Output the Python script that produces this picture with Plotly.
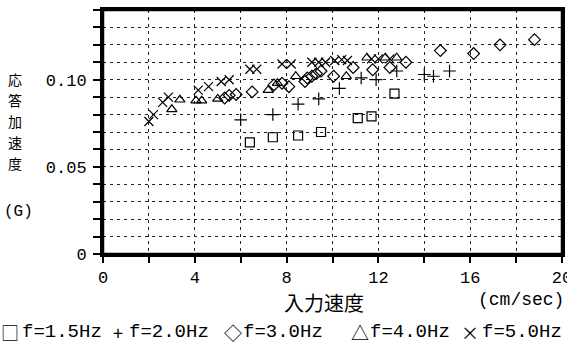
import plotly.graph_objects as go

# ---- data ----
sq_x = [6.4, 7.4, 8.5, 9.5, 11.1, 11.7, 12.7]
sq_y = [0.064, 0.067, 0.068, 0.070, 0.078, 0.079, 0.092]

plus_x = [6.0, 7.4, 8.5, 9.4, 10.3, 11.25, 11.9, 12.8, 14.0, 14.4, 15.1]
plus_y = [0.077, 0.080, 0.086, 0.089, 0.095, 0.101, 0.100, 0.105, 0.103, 0.102, 0.105]

dia_x = [5.3, 5.5, 5.8, 6.5, 7.45, 7.8, 8.1, 8.8, 8.9, 9.1, 9.3, 9.5, 10.05, 10.9,
         11.75, 12.5, 13.2, 14.7, 16.15, 17.3, 18.8]
dia_y = [0.0895, 0.091, 0.0915, 0.093, 0.097, 0.098, 0.096, 0.099, 0.101, 0.102,
         0.1035, 0.105, 0.102, 0.107, 0.1057, 0.107, 0.110, 0.1167, 0.115, 0.120, 0.123]

tri_x = [3.0, 3.35, 4.05, 4.3, 5.0, 7.2, 7.6, 8.4, 10.6, 11.5, 12.3, 12.8]
tri_y = [0.083, 0.0885, 0.088, 0.088, 0.089, 0.094, 0.098, 0.102, 0.102, 0.1126,
         0.1126, 0.1126]

x5_x = [2.0, 2.2, 2.6, 2.85, 4.15, 4.6, 5.15, 5.5, 6.4, 6.7, 7.8, 8.2, 9.1, 9.4,
        9.7, 10.1, 10.4, 10.65, 11.7, 12.0, 12.5]
x5_y = [0.076, 0.080, 0.087, 0.090, 0.094, 0.096, 0.099, 0.100, 0.106, 0.106, 0.109,
        0.109, 0.110, 0.110, 0.110, 0.111, 0.1115, 0.111, 0.112, 0.112, 0.112]

series_names = ["f=1.5Hz", "f=2.0Hz", "f=3.0Hz", "f=4.0Hz", "f=5.0Hz"]
legend_symbols = ["□", "+", "◇", "△", "×"]

x_tickvals = [0, 2, 4, 6, 8, 10, 12, 14, 16, 18, 20]
x_ticktext = ["0", "", "4", "", "8", "", "12", "", "16", "", "20"]
y_tickvals = [0.00, 0.01, 0.02, 0.03, 0.04, 0.05, 0.06, 0.07, 0.08, 0.09, 0.10,
              0.11, 0.12, 0.13, 0.14]
y_ticktext = ["0", "", "", "", "", "0.05", "", "", "", "", "0.10", "", "", "", ""]

y_title_chars = ["応", "答", "加", "速", "度"]
x_title = "入力速度"
x_unit = "(cm/sec)"
y_unit = "(G)"

MONO = "Liberation Mono, Noto Sans CJK JP, monospace"
CJK = "Noto Sans CJK JP, sans-serif"

fig = go.Figure()
specs = [
    (sq_x, sq_y, "square-open"),
    (plus_x, plus_y, "cross-thin-open"),
    (dia_x, dia_y, "diamond-open"),
    (tri_x, tri_y, "triangle-up-open"),
    (x5_x, x5_y, "x-thin-open"),
]
for (xs, ys, sym), name in zip(specs, series_names):
    fig.add_trace(go.Scatter(
        x=xs, y=ys, mode="markers", name=name,
        marker=dict(symbol=sym, size=9, color="black",
                    line=dict(color="black", width=1.2)),
        showlegend=False, cliponaxis=False,
    ))

grid_dash = "3px,4px"
fig.update_xaxes(
    range=[0, 20], tickvals=x_tickvals, ticktext=x_ticktext,
    showgrid=True, gridcolor="#222", gridwidth=1, griddash=grid_dash,
    ticks="outside", ticklen=6, tickwidth=1.5, tickcolor="black",
    showline=True, linecolor="black", linewidth=3, mirror=True,
    zeroline=False, automargin=False, ticklabeloverflow="allow",
    tickfont=dict(family=MONO, size=17, color="black"),
)
fig.update_yaxes(
    range=[0, 0.14], tickvals=y_tickvals, ticktext=y_ticktext,
    showgrid=True, gridcolor="#222", gridwidth=1, griddash=grid_dash,
    ticks="outside", ticklen=7, tickwidth=1.5, tickcolor="black",
    showline=True, linecolor="black", linewidth=3, mirror=True,
    zeroline=False, ticklabelstandoff=3, automargin=False,
    tickfont=dict(family=MONO, size=17, color="black"),
)

annotations = []
char_y = [79, 100, 121, 142, 163]
for ch, cy in zip(y_title_chars, char_y):
    annotations.append(dict(text=ch, x=15, y=cy,
                            font=dict(family=CJK, size=14, color="black")))
annotations += [
    dict(text=y_unit, x=18, y=212, font=dict(family=MONO, size=16, color="black")),
    dict(text=x_title, x=324, y=302, font=dict(family=CJK, size=20, color="black")),
    dict(text=x_unit, x=521, y=300, font=dict(family=MONO, size=18, color="black")),
]
# legend row as text
legend_sym_x = [10, 118, 233, 360, 470]
legend_txt_x = [20, 127, 241, 368, 480]
for sym, name, sx, tx in zip(legend_symbols, series_names, legend_sym_x, legend_txt_x):
    annotations.append(dict(text=sym, x=sx, y=332,
                            font=dict(family=CJK, size=18, color="black")))
    annotations.append(dict(text=name, x=tx, y=332, xanchor="left",
                            font=dict(family=MONO, size=19, color="black")))

W, H = 567, 349
L, R, T, B = 103, 5, 10, 95
PW, PH = W - L - R, H - T - B
fixed = []
for a in annotations:
    b = dict(a)
    b.setdefault("xanchor", "center")
    b["xref"] = "paper"
    b["yref"] = "paper"
    b["x"] = (a["x"] - L) / PW
    b["y"] = (H - B - a["y"]) / PH
    b["yanchor"] = "middle"
    b["showarrow"] = False
    fixed.append(b)

fig.update_layout(
    width=W, height=H,
    margin=dict(l=L, r=R, t=T, b=B, autoexpand=False),
    plot_bgcolor="white", paper_bgcolor="white",
    annotations=fixed,
    shapes=[dict(type="rect", xref="paper", yref="paper", x0=0, y0=0, x1=1, y1=1,
                 line=dict(color="black", width=2.5), layer="above")],
)
fig.write_html("out.html", config={"displayModeBar": False},
               post_script="document.body.style.margin='0';document.body.style.padding='0';")
